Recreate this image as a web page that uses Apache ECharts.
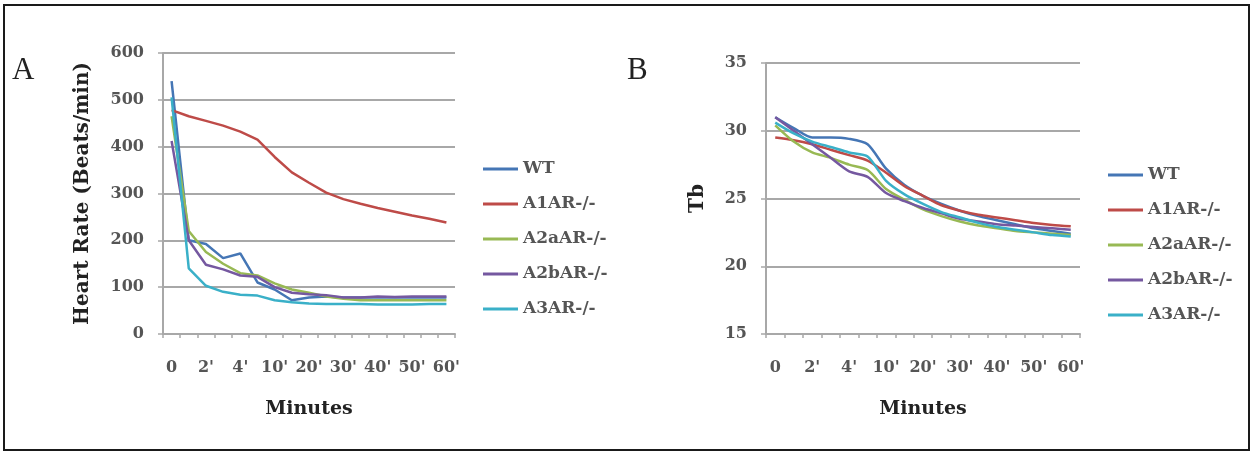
<!DOCTYPE html>
<html>
<head>
<meta charset="utf-8">
<script src="https://cdn.jsdelivr.net/npm/echarts@6/dist/echarts.min.js"></script>
<style>
html,body{margin:0;padding:0;background:#fff;}
#chart{width:1252px;height:453px;}
</style>
</head>
<body>
<div id="chart"></div>
<script>
// ---- data ----
const categories = ["0", "1'", "2'", "3'", "4'", "5'", "10'", "15'", "20'", "25'", "30'", "35'", "40'", "45'", "50'", "55'", "60'"];
const seriesNames = ["WT", "A1AR-/-", "A2aAR-/-", "A2bAR-/-", "A3AR-/-"];
const seriesColors = ["#4576b5", "#be4b48", "#98b954", "#7558a0", "#3ab0c8"];

// Panel A: Heart rate (beats/min)
const hrWT   = [540, 200, 192, 162, 172, 110, 95, 72, 78, 80, 78, 78, 78, 78, 78, 78, 78];
const hrA1   = [478, 465, 455, 445, 432, 415, 378, 345, 323, 302, 288, 278, 269, 261, 253, 246, 238];
const hrA2a  = [465, 220, 175, 150, 130, 125, 108, 95, 88, 80, 75, 72, 72, 72, 72, 72, 72];
const hrA2b  = [412, 200, 148, 138, 125, 122, 100, 88, 85, 83, 78, 78, 80, 79, 80, 80, 80];
const hrA3   = [505, 140, 103, 90, 84, 82, 72, 68, 65, 64, 64, 64, 63, 63, 63, 64, 64];

// Panel B: Tb
const tbWT   = [31.0, 30.2, 29.5, 29.5, 29.4, 29.0, 27.2, 26.0, 25.2, 24.6, 24.1, 23.7, 23.4, 23.1, 22.8, 22.6, 22.4];
const tbA1   = [29.5, 29.3, 29.0, 28.6, 28.2, 27.8, 26.9, 25.9, 25.2, 24.5, 24.1, 23.8, 23.6, 23.4, 23.2, 23.05, 22.95];
const tbA2a  = [30.4, 29.2, 28.4, 28.0, 27.5, 27.1, 25.7, 24.9, 24.2, 23.7, 23.3, 23.0, 22.8, 22.6, 22.5, 22.4, 22.3];
const tbA2b  = [31.0, 30.0, 29.0, 28.0, 27.0, 26.6, 25.4, 24.8, 24.3, 23.9, 23.5, 23.3, 23.1, 23.0, 22.9, 22.8, 22.7];
const tbA3   = [30.6, 29.8, 29.2, 28.8, 28.4, 28.1, 26.3, 25.3, 24.6, 24.0, 23.6, 23.2, 22.9, 22.7, 22.5, 22.3, 22.2];

const hrTicks = { min: 0, max: 600, interval: 100 };
const tbTicks = { min: 15, max: 35, interval: 5 };

// ---- chart ----
const serif = "'DejaVu Serif', serif";
const gridColor = '#a8a8a8';
const labelColor = '#555555';
const titleColor = '#222222';

function xAxis(gridIndex) {
  return {
    type: 'category', gridIndex, data: categories, boundaryGap: true,
    axisLine: { lineStyle: { color: gridColor, width: 2 } },
    axisTick: { show: true, length: 4, interval: 0, lineStyle: { color: gridColor, width: 1.5 } },
    axisLabel: { interval: 1, margin: 26, color: labelColor, fontFamily: serif, fontWeight: 'bold', fontSize: 16 },
    name: 'Minutes', nameLocation: 'middle', nameGap: 66,
    nameTextStyle: { color: titleColor, fontFamily: serif, fontWeight: 'bold', fontSize: 19 },
    splitLine: { show: false }
  };
}
function yAxis(gridIndex, ticks, name, nameGap) {
  return {
    type: 'value', gridIndex, min: ticks.min, max: ticks.max, interval: ticks.interval,
    axisLine: { show: true, lineStyle: { color: gridColor, width: 2 } },
    axisTick: { show: true, length: 5, lineStyle: { color: gridColor, width: 1.5 } },
    axisLabel: { margin: 19, color: labelColor, fontFamily: serif, fontWeight: 'bold', fontSize: 16 },
    splitLine: { show: true, lineStyle: { color: gridColor, width: 2 } },
    name, nameLocation: 'middle', nameGap, nameRotate: 90,
    nameTextStyle: { color: titleColor, fontFamily: serif, fontWeight: 'bold', fontSize: 20 }
  };
}

const hrData = [hrWT, hrA1, hrA2a, hrA2b, hrA3];
const tbData = [tbWT, tbA1, tbA2a, tbA2b, tbA3];
const series = [];
seriesNames.forEach((n, i) => {
  series.push({ name: n, type: 'line', xAxisIndex: 0, yAxisIndex: 0, data: hrData[i],
    symbol: 'none', lineStyle: { width: 2.5, color: seriesColors[i] }, itemStyle: { color: seriesColors[i] }, z: 2 + i });
});
seriesNames.forEach((n, i) => {
  series.push({ name: n, type: 'line', xAxisIndex: 1, yAxisIndex: 1, data: tbData[i], smooth: 0.25,
    symbol: 'none', lineStyle: { width: 2.5, color: seriesColors[i] }, itemStyle: { color: seriesColors[i] }, z: 2 + i });
});

function legend(left, top) {
  return {
    orient: 'vertical', left, top, padding: 0, data: seriesNames, icon: 'rect',
    itemWidth: 35, itemHeight: 3, itemGap: 17, selectedMode: false,
    textStyle: { color: labelColor, fontFamily: serif, fontWeight: 'bold', fontSize: 17, lineHeight: 18 }
  };
}

const chart = echarts.init(document.getElementById('chart'));
chart.setOption({
  animation: false,
  backgroundColor: '#ffffff',
  grid: [
    { left: 163, top: 53, width: 292, height: 281 },
    { left: 766, top: 63, width: 314, height: 271 }
  ],
  xAxis: [xAxis(0), xAxis(1)],
  yAxis: [yAxis(0, hrTicks, 'Heart Rate (Beats/min)', 70), yAxis(1, tbTicks, 'Tb', 58)],
  legend: [legend(483, 160), legend(1108, 166)],
  series,
  graphic: [
    { type: 'rect', shape: { x: 4, y: 5, width: 1245, height: 445 }, style: { fill: 'none', stroke: '#1a1a1a', lineWidth: 2 }, silent: true },
    { type: 'text', left: 12, top: 55, style: { text: 'A', font: "31px 'Liberation Serif', serif", fill: '#222' } },
    { type: 'text', left: 627, top: 55, style: { text: 'B', font: "31px 'Liberation Serif', serif", fill: '#222' } }
  ]
});
</script>
</body>
</html>
